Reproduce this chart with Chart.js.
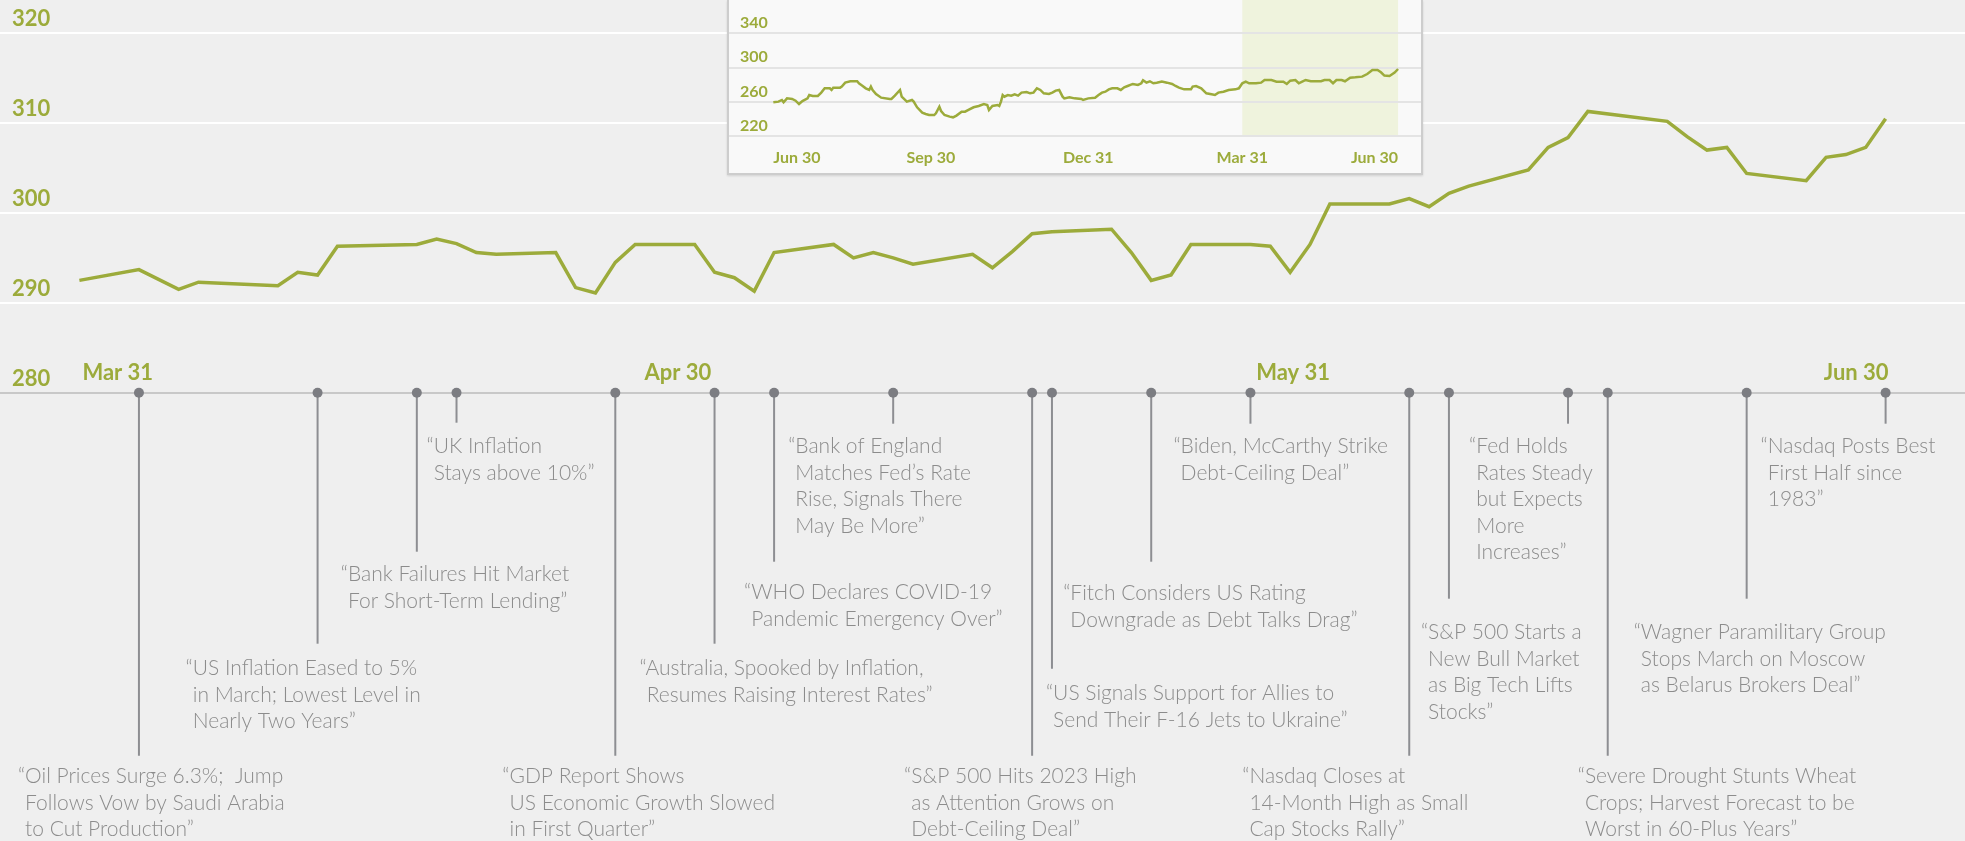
<!DOCTYPE html>
<html>
<head>
<meta charset="utf-8">
<script src="https://cdn.jsdelivr.net/npm/chart.js@4.4.1/dist/chart.umd.min.js"></script>
<style>
  html, body { margin: 0; padding: 0; background: #efefef; }
  #wrap { position: relative; width: 1965px; height: 841px; overflow: hidden; }
  #mainChart { position: absolute; left: 0; top: 0; }
  #insetBox {
    position: absolute; left: 727px; top: 0; width: 692px; height: 173px;
    background: #f9f9f9; border: 2px solid #cdcdcd; border-top: none;
    box-shadow: 0 1px 2px rgba(0,0,0,0.12);
  }
  #insetChart { display: block; }
</style>
</head>
<body>
<div id="wrap">
  <canvas id="mainChart" width="1965" height="841"></canvas>
  <div id="insetBox"><canvas id="insetChart" width="692" height="173"></canvas></div>
</div>
<script>
// ---- main series (Mar 31 - Jun 30, 2023)
const mainDates = [
  '2023-03-31','2023-04-03','2023-04-05','2023-04-06','2023-04-10','2023-04-11','2023-04-12','2023-04-13',
  '2023-04-17','2023-04-18','2023-04-19','2023-04-20','2023-04-21','2023-04-24','2023-04-25','2023-04-26',
  '2023-04-27','2023-04-28','2023-05-01','2023-05-02','2023-05-03','2023-05-04','2023-05-05','2023-05-08',
  '2023-05-09','2023-05-10','2023-05-11','2023-05-12','2023-05-15','2023-05-16','2023-05-17','2023-05-18',
  '2023-05-19','2023-05-22','2023-05-23','2023-05-24','2023-05-25','2023-05-26','2023-05-29','2023-05-30',
  '2023-05-31','2023-06-01','2023-06-02','2023-06-05','2023-06-06','2023-06-07','2023-06-08','2023-06-09',
  '2023-06-12','2023-06-13','2023-06-14','2023-06-15','2023-06-19','2023-06-20','2023-06-21','2023-06-22',
  '2023-06-23','2023-06-26','2023-06-27','2023-06-28','2023-06-29','2023-06-30'
];
const mainValues = [
  292.5, 293.7, 291.5, 292.3, 291.9, 293.4, 293.1, 296.3,
  296.5, 297.1, 296.6, 295.6, 295.4, 295.6, 291.7, 291.1,
  294.5, 296.5, 296.5, 293.4, 292.8, 291.3, 295.6, 296.5,
  295.0, 295.6, 295.0, 294.3, 295.4, 293.9, 295.7, 297.7,
  297.9, 298.2, 295.6, 292.5, 293.1, 296.5, 296.5, 296.3,
  293.4, 296.5, 301.0, 301.0, 301.6, 300.7, 302.2, 303.0,
  304.8, 307.3, 308.4, 311.3, 310.2, 308.5, 307.0, 307.3,
  304.4, 303.6, 306.2, 306.5, 307.3, 310.5
];
const mainTickDates = ['2023-03-31', '2023-04-30', '2023-05-31', '2023-06-30'];
const mainTickLabels = ['Mar 31', 'Apr 30', 'May 31', 'Jun 30'];
const mainYTicks = [280, 290, 300, 310, 320];

// ---- headlines on the timeline
const eventDates = [
  '2023-04-03','2023-04-12','2023-04-17','2023-04-19','2023-04-27','2023-05-02','2023-05-05','2023-05-11',
  '2023-05-18','2023-05-19','2023-05-24','2023-05-29','2023-06-06','2023-06-08','2023-06-14','2023-06-16',
  '2023-06-23','2023-06-30'
];
const headlines = [
  '\u201COil Prices Surge 6.3%;  Jump\nFollows Vow by Saudi Arabia\nto Cut Production\u201D',
  '\u201CUS Inflation Eased to 5%\nin March; Lowest Level in\nNearly Two Years\u201D',
  '\u201CBank Failures Hit Market\nFor Short-Term Lending\u201D',
  '\u201CUK Inflation\nStays above 10%\u201D',
  '\u201CGDP Report Shows\nUS Economic Growth Slowed\nin First Quarter\u201D',
  '\u201CAustralia, Spooked by Inflation,\nResumes Raising Interest Rates\u201D',
  '\u201CWHO Declares COVID-19\nPandemic Emergency Over\u201D',
  '\u201CBank of England\nMatches Fed\u2019s Rate\nRise, Signals There\nMay Be More\u201D',
  '\u201CS&P 500 Hits 2023 High\nas Attention Grows on\nDebt-Ceiling Deal\u201D',
  '\u201CUS Signals Support for Allies to\nSend Their F-16 Jets to Ukraine\u201D',
  '\u201CFitch Considers US Rating\nDowngrade as Debt Talks Drag\u201D',
  '\u201CBiden, McCarthy Strike\nDebt-Ceiling Deal\u201D',
  '\u201CNasdaq Closes at\n14-Month High as Small\nCap Stocks Rally\u201D',
  '\u201CS&P 500 Starts a\nNew Bull Market\nas Big Tech Lifts\nStocks\u201D',
  '\u201CFed Holds\nRates Steady\nbut Expects\nMore\nIncreases\u201D',
  '\u201CSevere Drought Stunts Wheat\nCrops; Harvest Forecast to be\nWorst in 60-Plus Years\u201D',
  '\u201CWagner Paramilitary Group\nStops March on Moscow\nas Belarus Brokers Deal\u201D',
  '\u201CNasdaq Posts Best\nFirst Half since\n1983\u201D'
];
// layout of each note: [text x offset from marker, stem length, first text line offset below axis]
const noteLayout = [
  [-121, 363, 384], [-132, 251, 276], [-76, 159, 182], [-30, 30, 54], [-113, 363, 384], [-75, 251, 276],
  [-30, 169, 200], [-105, 31, 54], [-128, 363, 384], [-6, 276, 301], [-88, 169, 201], [-77, 31, 54],
  [-167, 363, 384], [-28, 206, 240], [-99, 31, 54], [-30, 363, 384], [-113, 206, 240], [-125, 31, 54]
];

// ---- inset series: days after Jun 30, 2022
const insetDays = [
  0, 3, 5, 6, 8, 11, 13, 15, 17, 20, 21, 23, 26, 28, 30, 33, 34, 35, 39, 40, 42, 45, 49, 50, 52, 54, 56, 57, 58,
  60, 63, 68, 69, 71, 74, 75, 78, 81, 82, 84, 87, 89, 91, 94, 95, 97, 98, 100, 103, 105, 107, 110, 112, 114,
  117, 120, 123, 125, 126, 128, 131, 132, 133, 134, 135, 137, 139, 141, 143, 145, 148, 150, 152, 154, 156, 158,
  161, 163, 165, 167, 169, 170, 173, 176, 180, 181, 184, 188, 190, 192, 194, 196, 198, 201, 203, 205, 207, 210,
  213, 215, 216, 218, 220, 222, 224, 227, 230, 233, 235, 237, 240, 244, 245, 247, 250, 253, 256, 258, 260, 263,
  266, 270, 272, 274, 276, 278, 282, 285, 287, 291, 294, 298, 300, 302, 305, 307, 309, 311, 314, 320, 322, 325,
  327, 329, 332, 334, 337, 340, 344, 347, 350, 353, 355, 357, 360, 363, 365
];
const insetValues = [
  259.6, 260.4, 262.3, 259.6, 264.2, 263.5, 261.5, 257.6, 261.1, 264.2, 268.1, 267.0, 267.0, 270.9, 275.9, 275.9,
  274.0, 276.7, 276.7, 277.9, 282.5, 284.1, 284.1, 281.8, 279.0, 275.9, 274.0, 277.9, 274.0,
  269.3, 265.0, 263.5, 263.5, 267.4, 274.0, 266.2, 260.4, 262.3, 260.4, 253.8, 247.5, 246.0, 244.8, 244.8, 246.8,
  254.5, 249.5, 244.8, 242.9, 242.1, 244.1, 248.7, 248.7, 250.7,
  253.8, 255.3, 257.6, 256.5, 250.7, 255.3, 256.5, 255.3, 260.4, 268.1, 266.2, 268.1, 267.4, 268.9, 267.4, 270.9,
  271.6, 270.1, 270.9, 275.9, 274.0, 270.1,
  269.3, 270.9, 273.2, 274.0, 266.2, 264.2, 265.4, 264.2, 263.5, 262.3, 264.2, 265.0, 268.1, 270.9, 272.0, 274.7,
  275.9, 275.9, 274.0, 277.1, 278.6, 281.0,
  279.8, 281.8, 285.2, 282.5, 284.1, 281.8, 282.5, 283.7, 282.5, 281.0, 278.6, 276.7, 274.7, 274.7, 277.9, 278.6,
  275.9, 270.1, 268.9, 268.1, 270.9, 272.0,
  274.0, 274.7, 275.9, 281.8, 283.7, 281.8, 281.8, 282.5, 285.6, 285.6, 283.7, 283.7, 281.0, 284.8, 285.6, 281.8,
  283.7, 285.6, 284.1, 284.1, 285.6, 285.6,
  281.8, 285.6, 285.6, 284.1, 288.3, 288.7, 289.5, 292.6, 297.3, 297.3, 294.6, 290.7, 290.3, 294.2, 298.4
];
const insetTickDays = [0, 92, 184, 274, 365];
const insetTickLabels = ['Jun 30', 'Sep 30', 'Dec 31', 'Mar 31', 'Jun 30'];
const insetYTicks = [220, 260, 300, 340];
const insetHighlight = [274, 365]; // Mar 31 - Jun 30, 2023

const OLIVE = '#9cab3b';
const NOTE_GRAY = '#8c8c8c';
Chart.defaults.font.family = 'Lato';

const mainStart = Date.parse('2023-03-31T00:00:00Z');
function dayOf(s) {
  return Math.round((Date.parse(s + 'T00:00:00Z') - mainStart) / 86400000);
}

// keep axis labels from pushing the plot area around
function noPad(s) {
  s.paddingTop = 0;
  s.paddingBottom = 0;
  s.paddingLeft = 0;
  s.paddingRight = 0;
}

// lollipops + headline text below the timeline axis
const notesPlugin = {
  id: 'notes',
  afterDraw(chart) {
    const ctx = chart.ctx;
    const xs = chart.scales.x;
    const axisY = chart.scales.y.getPixelForValue(280);
    ctx.save();
    ctx.font = '300 21px Lato';
    const quoteW = ctx.measureText('\u201C').width;
    eventDates.forEach((d, i) => {
      const x = xs.getPixelForValue(dayOf(d));
      const [dx, stem, textDy] = noteLayout[i];
      ctx.strokeStyle = '#8d8e92';
      ctx.lineWidth = 2;
      ctx.beginPath();
      ctx.moveTo(x, axisY);
      ctx.lineTo(x, axisY + stem);
      ctx.stroke();
      ctx.fillStyle = '#7c7d82';
      ctx.beginPath();
      ctx.arc(x, axisY, 5, 0, Math.PI * 2);
      ctx.fill();

      ctx.fillStyle = NOTE_GRAY;
      ctx.textAlign = 'left';
      ctx.textBaseline = 'middle';
      headlines[i].split('\n').forEach((line, j) => {
        ctx.fillText(line, x + dx + (j ? quoteW : 0), axisY + textDy + j * 26.5);
      });
    });
    ctx.restore();
  }
};

new Chart(document.getElementById('mainChart'), {
  type: 'line',
  data: {
    datasets: [{
      data: mainDates.map((d, i) => ({ x: dayOf(d), y: mainValues[i] })),
      borderColor: OLIVE,
      borderWidth: 3.5,
      pointRadius: 0,
      tension: 0
    }]
  },
  options: {
    responsive: false,
    animation: false,
    layout: { padding: { top: 33.3, left: 0, right: 0, bottom: 0 } },
    plugins: { legend: { display: false }, tooltip: { enabled: false } },
    scales: {
      x: {
        type: 'linear', min: -4, max: 95,
        grid: { display: false },
        border: { display: false },
        afterBuildTicks: s => { s.ticks = mainTickDates.map(d => ({ value: dayOf(d) })); },
        afterFit: s => { s.height = 448.3; noPad(s); },
        ticks: {
          mirror: true, align: 'inner', padding: 7, labelOffset: 3, maxRotation: 0, autoSkip: false,
          color: OLIVE, font: { size: 22, weight: 'bold' },
          callback: (v, i) => mainTickLabels[i]
        }
      },
      y: {
        min: 280, max: 320,
        afterBuildTicks: s => { s.ticks = mainYTicks.map(v => ({ value: v })); },
        afterFit: s => { s.width = 0; noPad(s); },
        grid: {
          color: c => (c.tick && c.tick.value === 280) ? '#c8c8c8' : '#ffffff',
          lineWidth: 2, drawTicks: false
        },
        border: { display: false },
        ticks: { mirror: true, padding: 12, labelOffset: -14, color: OLIVE, font: { size: 22, weight: 'bold' } }
      }
    }
  },
  plugins: [notesPlugin]
});

// shaded quarter inside the inset
const highlightPlugin = {
  id: 'highlight',
  beforeDraw(chart) {
    const { ctx, chartArea } = chart;
    const xs = chart.scales.x;
    const x0 = xs.getPixelForValue(insetHighlight[0]);
    const x1 = xs.getPixelForValue(insetHighlight[1]);
    ctx.save();
    ctx.fillStyle = '#eff3dd';
    ctx.fillRect(x0, chartArea.top, x1 - x0, chartArea.bottom - 1 - chartArea.top);
    ctx.restore();
  }
};

new Chart(document.getElementById('insetChart'), {
  type: 'line',
  data: {
    datasets: [{
      data: insetDays.map((d, i) => ({ x: d, y: insetValues[i] })),
      borderColor: OLIVE,
      borderWidth: 2.5,
      pointRadius: 0,
      tension: 0
    }]
  },
  options: {
    responsive: false,
    animation: false,
    layout: { padding: 0 },
    plugins: { legend: { display: false }, tooltip: { enabled: false } },
    scales: {
      x: {
        type: 'linear', min: -25.9, max: 378.4,
        grid: { display: false },
        border: { display: false },
        afterBuildTicks: s => { s.ticks = insetTickDays.map(v => ({ value: v })); },
        afterFit: s => { s.height = 36.7; noPad(s); },
        ticks: {
          align: 'inner', padding: 4, maxRotation: 0, autoSkip: false,
          color: OLIVE, font: { size: 16, weight: 'bold' },
          callback: (v, i) => insetTickLabels[i]
        }
      },
      y: {
        min: 220, max: 378.8,
        afterBuildTicks: s => { s.ticks = insetYTicks.map(v => ({ value: v })); },
        afterFit: s => { s.width = 0; noPad(s); },
        grid: { color: '#e4e4e4', lineWidth: 2, drawTicks: false },
        border: { display: false },
        ticks: { mirror: true, padding: 11, labelOffset: -10.6, color: OLIVE, font: { size: 16, weight: 'bold' } }
      }
    }
  },
  plugins: [highlightPlugin]
});
</script>
</body>
</html>
